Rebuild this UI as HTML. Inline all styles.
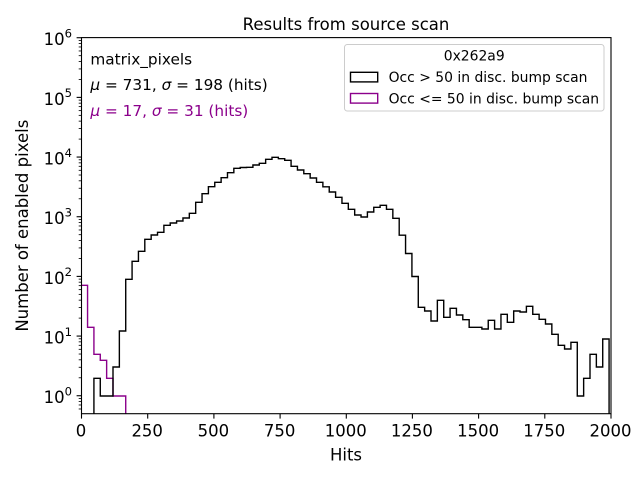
<!DOCTYPE html>
<html>
<head>
<meta charset="utf-8">
<style>
html,body{margin:0;padding:0;background:#fff;}
svg{display:block;}
text{font-family:"DejaVu Sans","Liberation Sans",sans-serif;fill:#000;}
</style>
</head>
<body>
<svg width="640" height="480" viewBox="0 0 640 480" xmlns="http://www.w3.org/2000/svg">
<rect x="0" y="0" width="640" height="480" fill="#fff"/>
<defs>
<clipPath id="ax"><rect x="81.5" y="37.5" width="529.5" height="376.2"/></clipPath>
</defs>

<!-- Title -->
<text x="346" y="30" font-size="16.5" text-anchor="middle">Results from source scan</text>

<!-- Histograms -->
<g clip-path="url(#ax)" fill="none" stroke-width="1.4" stroke-linejoin="miter">
<path stroke="#8b008b" d="M81.2 416 V285.3 H87.56 V327.3 H93.92 V354.3 H100.28 V360.3 H106.64 V378.3 H113.0 V396 H125.72 V416"/>
<path stroke="#000" d="M93.92 416 V378.3 H100.28 V396 H113.0 V367 H119.36 V331 H125.72 V279.3 H132.08 V261.3 H138.44 V251.3 H144.8 V239.3 H151.16 V235 H157.52 V232.3 H163.88 V225.3 H170.24 V223 H176.6 V221 H182.96 V218 H189.32 V213.3 H195.68 V202.3 H202.04 V193.7 H208.4 V186.7 H214.76 V182.3 H221.12 V177.7 H227.48 V172.7 H233.84 V168.3 H240.2 V167.5 H246.56 V167.3 H252.92 V165 H259.28 V163.3 H265.64 V159.3 H272.0 V157.3 H278.36 V158.7 H284.72 V160.3 H291.08 V166.3 H297.44 V170 H303.8 V173.7 H310.16 V178 H316.52 V182.3 H322.88 V186.8 H329.24 V192 H335.6 V197.3 H341.96 V203.3 H348.32 V209.3 H354.68 V215 H361.04 V217 H367.4 V212 H373.76 V207.3 H380.12 V205.3 H386.48 V209.3 H392.84 V218.3 H399.2 V235.2 H405.56 V253.5 H411.92 V276.5 H418.28 V307.3 H424.64 V311 H431.0 V321 H437.36 V300.3 H443.72 V317.3 H450.08 V308.3 H456.44 V315 H462.8 V319.7 H469.16 V327.3 H481.88 V329 H488.24 V320.3 H494.6 V329 H500.96 V314.3 H507.32 V322.3 H513.68 V311 H520.04 V312 H526.4 V306.3 H532.76 V314.3 H539.12 V319.3 H545.48 V324 H551.84 V334.3 H558.2 V345.3 H564.56 V349 H570.92 V342.3 H577.28 V396 H583.64 V378.3 H590.0 V354.3 H596.36 V367 H602.72 V339 H609.08 V416"/>
</g>

<!-- Spines -->
<g stroke="#000" stroke-width="1.1" fill="none">
<rect x="81.5" y="37.6" width="529.5" height="376.1"/>
</g>

<!-- Y major ticks -->
<g stroke="#000" stroke-width="1.1">
<line x1="76.6" y1="395.74" x2="81.5" y2="395.74"/>
<line x1="76.6" y1="336.07" x2="81.5" y2="336.07"/>
<line x1="76.6" y1="276.40" x2="81.5" y2="276.40"/>
<line x1="76.6" y1="216.73" x2="81.5" y2="216.73"/>
<line x1="76.6" y1="157.06" x2="81.5" y2="157.06"/>
<line x1="76.6" y1="97.39" x2="81.5" y2="97.39"/>
<line x1="76.6" y1="37.72" x2="81.5" y2="37.72"/>
</g>
<!-- Y minor ticks -->
<g stroke="#000" stroke-width="0.83">
<line x1="78.7" y1="408.98" x2="81.5" y2="408.98"/><line x1="78.7" y1="404.98" x2="81.5" y2="404.98"/><line x1="78.7" y1="401.52" x2="81.5" y2="401.52"/><line x1="78.7" y1="398.47" x2="81.5" y2="398.47"/>
<line x1="78.7" y1="377.78" x2="81.5" y2="377.78"/><line x1="78.7" y1="367.27" x2="81.5" y2="367.27"/><line x1="78.7" y1="359.82" x2="81.5" y2="359.82"/><line x1="78.7" y1="354.03" x2="81.5" y2="354.03"/><line x1="78.7" y1="349.31" x2="81.5" y2="349.31"/><line x1="78.7" y1="345.31" x2="81.5" y2="345.31"/><line x1="78.7" y1="341.85" x2="81.5" y2="341.85"/><line x1="78.7" y1="338.80" x2="81.5" y2="338.80"/>
<line x1="78.7" y1="318.11" x2="81.5" y2="318.11"/><line x1="78.7" y1="307.60" x2="81.5" y2="307.60"/><line x1="78.7" y1="300.15" x2="81.5" y2="300.15"/><line x1="78.7" y1="294.36" x2="81.5" y2="294.36"/><line x1="78.7" y1="289.64" x2="81.5" y2="289.64"/><line x1="78.7" y1="285.64" x2="81.5" y2="285.64"/><line x1="78.7" y1="282.18" x2="81.5" y2="282.18"/><line x1="78.7" y1="279.13" x2="81.5" y2="279.13"/>
<line x1="78.7" y1="258.44" x2="81.5" y2="258.44"/><line x1="78.7" y1="247.93" x2="81.5" y2="247.93"/><line x1="78.7" y1="240.48" x2="81.5" y2="240.48"/><line x1="78.7" y1="234.69" x2="81.5" y2="234.69"/><line x1="78.7" y1="229.97" x2="81.5" y2="229.97"/><line x1="78.7" y1="225.97" x2="81.5" y2="225.97"/><line x1="78.7" y1="222.51" x2="81.5" y2="222.51"/><line x1="78.7" y1="219.46" x2="81.5" y2="219.46"/>
<line x1="78.7" y1="198.77" x2="81.5" y2="198.77"/><line x1="78.7" y1="188.26" x2="81.5" y2="188.26"/><line x1="78.7" y1="180.81" x2="81.5" y2="180.81"/><line x1="78.7" y1="175.02" x2="81.5" y2="175.02"/><line x1="78.7" y1="170.30" x2="81.5" y2="170.30"/><line x1="78.7" y1="166.30" x2="81.5" y2="166.30"/><line x1="78.7" y1="162.84" x2="81.5" y2="162.84"/><line x1="78.7" y1="159.79" x2="81.5" y2="159.79"/>
<line x1="78.7" y1="139.10" x2="81.5" y2="139.10"/><line x1="78.7" y1="128.59" x2="81.5" y2="128.59"/><line x1="78.7" y1="121.14" x2="81.5" y2="121.14"/><line x1="78.7" y1="115.35" x2="81.5" y2="115.35"/><line x1="78.7" y1="110.63" x2="81.5" y2="110.63"/><line x1="78.7" y1="106.63" x2="81.5" y2="106.63"/><line x1="78.7" y1="103.17" x2="81.5" y2="103.17"/><line x1="78.7" y1="100.12" x2="81.5" y2="100.12"/>
<line x1="78.7" y1="79.43" x2="81.5" y2="79.43"/><line x1="78.7" y1="68.92" x2="81.5" y2="68.92"/><line x1="78.7" y1="61.47" x2="81.5" y2="61.47"/><line x1="78.7" y1="55.68" x2="81.5" y2="55.68"/><line x1="78.7" y1="50.96" x2="81.5" y2="50.96"/><line x1="78.7" y1="46.96" x2="81.5" y2="46.96"/><line x1="78.7" y1="43.50" x2="81.5" y2="43.50"/><line x1="78.7" y1="40.45" x2="81.5" y2="40.45"/>
</g>

<!-- Y tick labels -->
<g font-size="16.5" text-anchor="end">
<text x="72" y="403.2">10<tspan dy="-7.6" font-size="11.6">0</tspan></text>
<text x="72" y="343.5">10<tspan dy="-7.6" font-size="11.6">1</tspan></text>
<text x="72" y="283.8">10<tspan dy="-7.6" font-size="11.6">2</tspan></text>
<text x="72" y="224.1">10<tspan dy="-7.6" font-size="11.6">3</tspan></text>
<text x="72" y="164.5">10<tspan dy="-7.6" font-size="11.6">4</tspan></text>
<text x="72" y="104.8">10<tspan dy="-7.6" font-size="11.6">5</tspan></text>
<text x="72" y="45.1">10<tspan dy="-7.6" font-size="11.6">6</tspan></text>
</g>

<!-- X ticks -->
<g stroke="#000" stroke-width="1.1">
<line x1="81.5" y1="413.7" x2="81.5" y2="418.6"/>
<line x1="147.7" y1="413.7" x2="147.7" y2="418.6"/>
<line x1="213.9" y1="413.7" x2="213.9" y2="418.6"/>
<line x1="280.1" y1="413.7" x2="280.1" y2="418.6"/>
<line x1="346.3" y1="413.7" x2="346.3" y2="418.6"/>
<line x1="412.4" y1="413.7" x2="412.4" y2="418.6"/>
<line x1="478.6" y1="413.7" x2="478.6" y2="418.6"/>
<line x1="544.8" y1="413.7" x2="544.8" y2="418.6"/>
<line x1="611.0" y1="413.7" x2="611.0" y2="418.6"/>
</g>
<g font-size="16.5" text-anchor="middle">
<text x="81.0" y="436.3">0</text>
<text x="147.2" y="436.3">250</text>
<text x="213.4" y="436.3">500</text>
<text x="279.6" y="436.3">750</text>
<text x="345.8" y="436.3">1000</text>
<text x="411.9" y="436.3">1250</text>
<text x="478.1" y="436.3">1500</text>
<text x="544.3" y="436.3">1750</text>
<text x="610.5" y="436.3">2000</text>
</g>

<!-- Axis labels -->
<text x="346" y="460.5" font-size="16.5" text-anchor="middle">Hits</text>
<text transform="translate(27.8,225.7) rotate(-90)" font-size="16.5" text-anchor="middle">Number of enabled pixels</text>

<!-- Annotation -->
<g font-size="15.3">
<text x="90.4" y="64.3">matrix_pixels</text>
<text x="90.4" y="90"><tspan font-style="italic">μ</tspan> = 731, <tspan font-style="italic">σ</tspan> = 198 (hits)</text>
<text x="90.4" y="116" style="fill:#8b008b"><tspan font-style="italic">μ</tspan> = 17, <tspan font-style="italic">σ</tspan> = 31 (hits)</text>
</g>

<!-- Legend -->
<rect x="344.5" y="44.5" width="259.5" height="66.5" rx="2.8" ry="2.8" fill="#fff" fill-opacity="0.8" stroke="#cccccc" stroke-width="1"/>
<text x="474.2" y="60.6" font-size="13.9" text-anchor="middle">0x262a9</text>
<rect x="350.5" y="72.3" width="27.2" height="9.6" fill="none" stroke="#000" stroke-width="1.4"/>
<rect x="350.5" y="93.5" width="27.2" height="9.6" fill="none" stroke="#8b008b" stroke-width="1.4"/>
<g font-size="13.9">
<text x="388.6" y="82.2">Occ &gt; 50 in disc. bump scan</text>
<text x="388.6" y="103.4">Occ &lt;= 50 in disc. bump scan</text>
</g>
</svg>
</body>
</html>
